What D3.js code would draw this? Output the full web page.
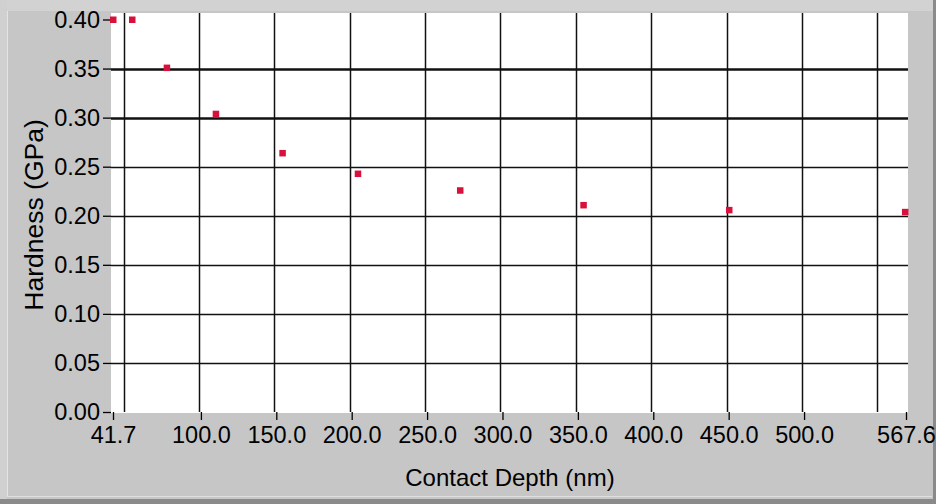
<!DOCTYPE html>
<html>
<head>
<meta charset="utf-8">
<script src="https://cdn.jsdelivr.net/npm/d3@7/dist/d3.min.js"></script>
<style>
  html, body { margin: 0; padding: 0; background: #c6c6c6; }
  svg { display: block; }
  text { font-family: "Liberation Sans", Arial, sans-serif; fill: #000; }
</style>
</head>
<body>
<svg id="chart" width="936" height="504"></svg>
<script>
// Indentation test: contact depth (nm) vs. hardness (GPa)
const contactDepth = [41.7, 54.3, 77.3, 109.8, 154.0, 204.0, 271.8, 353.6, 450.2, 566.9];
const hardness     = [0.400, 0.400, 0.351, 0.304, 0.264, 0.243, 0.226, 0.211, 0.206, 0.204];

const xDomain = [41.7, 567.6];
const yDomain = [0, 0.40];
const xLabelTicks = [41.7, 100, 150, 200, 250, 300, 350, 400, 450, 500, 567.6];
const xGridTicks  = [50, 100, 150, 200, 250, 300, 350, 400, 450, 500, 550];
const yTicks      = [0, 0.05, 0.10, 0.15, 0.20, 0.25, 0.30, 0.35, 0.40];
const yStrongGrid = [0.30, 0.35];

const svg = d3.select("#chart");
const W = 936, H = 504;

// Panel with bevelled frame
svg.append("rect").attr("width", W).attr("height", H).attr("fill", "#c6c6c6");
svg.append("rect").attr("x", 0).attr("y", 0).attr("width", W).attr("height", 11).attr("fill", "#d2d2d2");
svg.append("rect").attr("x", 0).attr("y", 0).attr("width", 7).attr("height", H).attr("fill", "#d0d0d0");
svg.append("line").attr("x1", 7.5).attr("x2", 7.5).attr("y1", 11).attr("y2", 496).attr("stroke", "#e4e4e4");
svg.append("line").attr("x1", 7).attr("x2", 932).attr("y1", 496.5).attr("y2", 496.5).attr("stroke", "#e0e0e0");
svg.append("rect").attr("x", 0).attr("y", 499).attr("width", W).attr("height", 5).attr("fill", "#8a8a8a");
svg.append("rect").attr("x", 933).attr("y", 0).attr("width", 3).attr("height", H).attr("fill", "#8a8a8a");

// Plot area
const plot = { left: 111, right: 908, top: 13, bottom: 413 };
const x = d3.scaleLinear().domain(xDomain).range([113, 906]);
const y = d3.scaleLinear().domain(yDomain).range([412, 19.5]);

svg.append("rect")
  .attr("x", plot.left).attr("y", plot.top)
  .attr("width", plot.right - plot.left).attr("height", plot.bottom - plot.top)
  .attr("fill", "#ffffff");

// Grid
const grid = svg.append("g");
grid.selectAll("line.v").data(xGridTicks).join("line")
  .attr("class", "v")
  .attr("x1", d => Math.round(x(d)) - 1.5).attr("x2", d => Math.round(x(d)) - 1.5)
  .attr("y1", plot.top).attr("y2", plot.bottom - 1)
  .attr("stroke", "#111").attr("stroke-width", 1.5);

grid.selectAll("line.h").data(yTicks.filter(t => t > 0 && t < 0.4)).join("line")
  .attr("class", "h")
  .attr("x1", plot.left).attr("x2", plot.right)
  .attr("y1", d => Math.round(y(d)) + 0.5).attr("y2", d => Math.round(y(d)) + 0.5)
  .attr("stroke", "#111")
  .attr("stroke-width", d => yStrongGrid.some(s => Math.abs(s - d) < 1e-9) ? 2.5 : 1.3);

// Y axis ticks and labels
const yAxis = d3.axisLeft(y)
  .tickValues(yTicks)
  .tickFormat(d3.format(".2f"))
  .tickSize(8)
  .tickPadding(3);
const gy = svg.append("g").attr("transform", `translate(${plot.left},0)`).call(yAxis);
gy.select(".domain").remove();
gy.selectAll(".tick line").attr("stroke", "#000").attr("stroke-width", 1.3);
gy.selectAll(".tick text").attr("font-size", 23.5).attr("fill", "#000")
  .attr("font-family", "Liberation Sans, Arial, sans-serif");

// X axis ticks and labels
const xAxis = d3.axisBottom(x)
  .tickValues(xLabelTicks)
  .tickFormat(d3.format(".1f"))
  .tickSize(8)
  .tickPadding(6);
const gx = svg.append("g").attr("transform", `translate(0,${plot.bottom - 1})`).call(xAxis);
gx.select(".domain").remove();
gx.selectAll(".tick line").attr("stroke", "#000").attr("stroke-width", 1.3);
gx.selectAll(".tick text").attr("font-size", 23.5).attr("fill", "#000")
  .attr("font-family", "Liberation Sans, Arial, sans-serif");

// Axis titles
svg.append("text")
  .attr("x", 510).attr("y", 486)
  .attr("text-anchor", "middle")
  .attr("font-size", 24)
  .text("Contact Depth (nm)");

svg.append("text")
  .attr("transform", "translate(43,215) rotate(-90)")
  .attr("text-anchor", "middle")
  .attr("font-size", 26.5)
  .text("Hardness (GPa)");

// Data points
const pts = contactDepth.map((d, i) => ({ depth: d, h: hardness[i] }));
svg.append("g").selectAll("rect").data(pts).join("rect")
  .attr("x", d => x(d.depth) - 3)
  .attr("y", d => y(d.h) - 3)
  .attr("width", 6.5).attr("height", 6.5)
  .attr("fill", "#d8103c");
</script>
</body>
</html>
